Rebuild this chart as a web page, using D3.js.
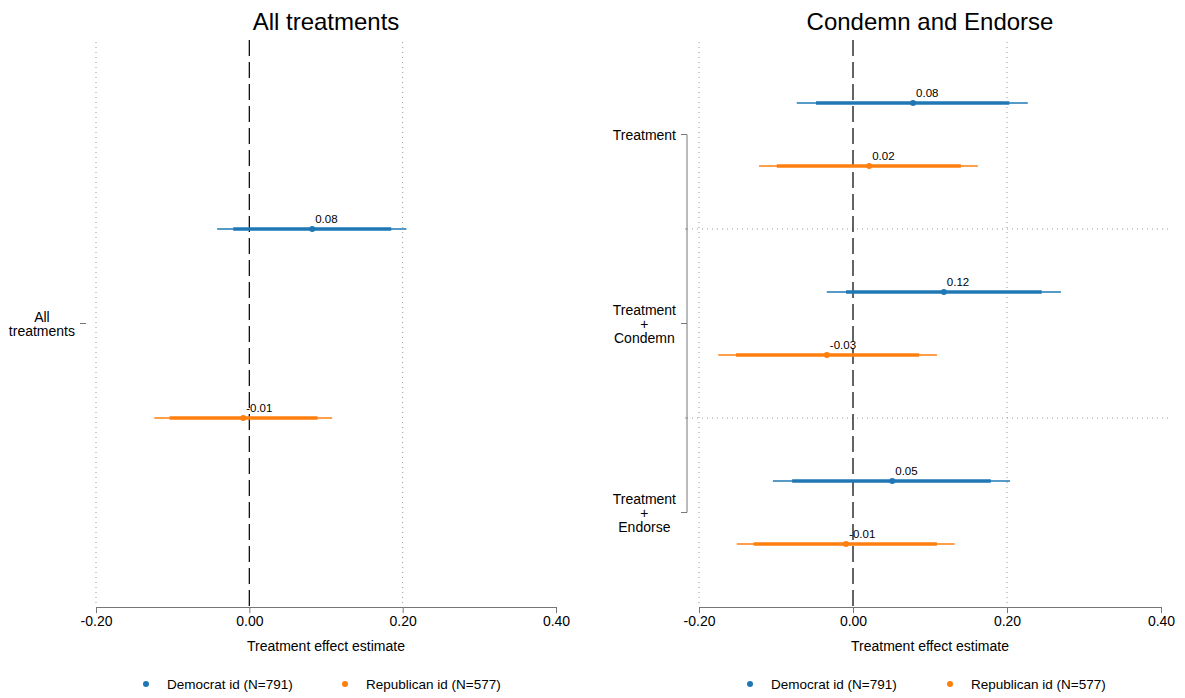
<!DOCTYPE html>
<html><head><meta charset="utf-8">
<script src="https://cdn.jsdelivr.net/npm/d3@7"></script>
<style>body{margin:0;background:#fff}svg{display:block}text{font-family:"Liberation Sans",Arial,Helvetica,sans-serif}</style>
</head><body><svg id="c" width="1185" height="698"></svg>
<script>
// ---- data ----
const xTicks = [-0.2, 0, 0.2, 0.4];
const groups = ["Democrat id (N=791)", "Republican id (N=577)"];
const colors = ["#1f77b4", "#ff7f0e"];

const leftTitle = "All treatments";
const leftCats = [["All", "treatments"]];
const leftDemEst = [0.082], leftDemLo95 = [-0.042], leftDemHi95 = [0.205], leftDemLo90 = [-0.021], leftDemHi90 = [0.185];
const leftRepEst = [-0.008], leftRepLo95 = [-0.124], leftRepHi95 = [0.108], leftRepLo90 = [-0.104], leftRepHi90 = [0.089];

const rightTitle = "Condemn and Endorse";
const rightCats = [["Treatment"], ["Treatment", "+", "Condemn"], ["Treatment", "+", "Endorse"]];
const rightDemEst = [0.078, 0.118, 0.051];
const rightDemLo95 = [-0.073, -0.034, -0.104];
const rightDemHi95 = [0.227, 0.270, 0.204];
const rightDemLo90 = [-0.048, -0.009, -0.079];
const rightDemHi90 = [0.203, 0.245, 0.179];
const rightRepEst = [0.021, -0.034, -0.009];
const rightRepLo95 = [-0.122, -0.175, -0.151];
const rightRepHi95 = [0.162, 0.109, 0.132];
const rightRepLo90 = [-0.099, -0.152, -0.129];
const rightRepHi90 = [0.140, 0.086, 0.109];

const svg = d3.select("#c");
const FONT = "Liberation Sans, Arial, sans-serif";
const fmt = d => d3.format(".2f")(d).replace("\u2212", "-");

function panel(cfg) {
  const g = svg.append("g");
  const x = d3.scaleLinear().domain([-0.2, 0.4]).range([cfg.x0, cfg.x1]);
  const y = d3.scaleBand().domain(d3.range(cfg.cats.length)).range([40, 607]).padding(0);
  const top = 40, bot = 607;

  g.selectAll(".vg").data([-0.2, 0.2]).join("line")
    .attr("x1", d => x(d)).attr("x2", d => x(d)).attr("y1", top + 2).attr("y2", bot)
    .attr("stroke", "#999").attr("stroke-width", 1).attr("stroke-dasharray", "1,4");

  const seps = d3.range(1, cfg.cats.length).map(i => y(i));
  g.selectAll(".hg").data(seps).join("line")
    .attr("x1", cfg.axisX).attr("x2", 1170).attr("y1", d => d).attr("y2", d => d)
    .attr("stroke", "#999").attr("stroke-width", 1).attr("stroke-dasharray", "1,4");

  g.append("line").attr("x1", x(0)).attr("x2", x(0)).attr("y1", top).attr("y2", bot)
    .attr("stroke", "#111").attr("stroke-width", 1.3).attr("stroke-dasharray", "16,6");

  const xa = g.append("g").attr("transform", `translate(0,${bot})`)
    .call(d3.axisBottom(x).tickValues(xTicks).tickFormat(fmt).tickSize(6).tickPadding(3));
  xa.select(".domain").attr("stroke", "#777");
  xa.selectAll(".tick line").attr("stroke", "#777");
  xa.selectAll(".tick text").attr("font-size", 14).attr("fill", "#000").attr("font-family", FONT);

  g.append("text").attr("x", (cfg.x0 + cfg.x1) / 2).attr("y", 651).attr("text-anchor", "middle")
    .attr("font-size", 14).text("Treatment effect estimate");
  g.append("text").attr("x", (cfg.x0 + cfg.x1) / 2).attr("y", 30).attr("text-anchor", "middle")
    .attr("font-size", 24).text(cfg.title);

  const centers = cfg.cats.map((c, i) => y(i) + y.bandwidth() / 2);
  if (cfg.cats.length > 1) {
    g.append("line").attr("x1", cfg.axisX).attr("x2", cfg.axisX)
      .attr("y1", centers[0]).attr("y2", centers[centers.length - 1]).attr("stroke", "#777");
  }
  g.selectAll(".yt").data(centers).join("line")
    .attr("x1", cfg.axisX - 6).attr("x2", cfg.axisX).attr("y1", d => d).attr("y2", d => d).attr("stroke", "#777");
  g.selectAll(".ymt").data(seps).join("line")
    .attr("x1", cfg.axisX - 2).attr("x2", cfg.axisX).attr("y1", d => d).attr("y2", d => d).attr("stroke", "#999");

  cfg.cats.forEach((lines, i) => {
    const t = g.append("text").attr("font-size", 14).attr("text-anchor", "middle");
    const n = lines.length, lh = 14;
    lines.forEach((l, k) => {
      t.append("tspan").attr("y", centers[i] + (k - (n - 1) / 2) * lh + 5).text(l);
    });
    let maxW = 0;
    t.selectAll("tspan").each(function () { maxW = Math.max(maxW, this.getComputedTextLength()); });
    t.selectAll("tspan").attr("x", cfg.axisX - 11 - maxW / 2);
  });

  cfg.series.forEach((s, si) => {
    const col = colors[si];
    const yy = i => y(i) + y.bandwidth() * (si + 1) / 3;
    const idx = d3.range(cfg.cats.length);
    g.selectAll(".ci95" + si).data(idx).join("line")
      .attr("x1", i => x(s.lo95[i])).attr("x2", i => x(s.hi95[i])).attr("y1", yy).attr("y2", yy)
      .attr("stroke", col).attr("stroke-width", 1.6);
    g.selectAll(".ci90" + si).data(idx).join("line")
      .attr("x1", i => x(s.lo90[i])).attr("x2", i => x(s.hi90[i])).attr("y1", yy).attr("y2", yy)
      .attr("stroke", col).attr("stroke-width", 3.6);
    g.selectAll(".pt" + si).data(idx).join("circle")
      .attr("cx", i => x(s.est[i])).attr("cy", yy).attr("r", 3).attr("fill", col);
    g.selectAll(".lb" + si).data(idx).join("text")
      .attr("x", i => x(s.est[i]) + 3).attr("y", i => yy(i) - 6).attr("font-size", 11.5)
      .text(i => fmt(s.est[i]));
  });

  const lg = g.append("g");
  cfg.legend.forEach((lx, k) => {
    lg.append("circle").attr("cx", lx).attr("cy", 684).attr("r", 3).attr("fill", colors[k]);
    lg.append("text").attr("x", lx + 21).attr("y", 689).attr("font-size", 13.5).text(groups[k]);
  });
}

panel({
  x0: 96, x1: 556, axisX: 86, title: leftTitle, cats: leftCats, legend: [146, 345],
  series: [
    {est: leftDemEst, lo95: leftDemLo95, hi95: leftDemHi95, lo90: leftDemLo90, hi90: leftDemHi90},
    {est: leftRepEst, lo95: leftRepLo95, hi95: leftRepHi95, lo90: leftRepLo90, hi90: leftRepHi90}
  ]
});
panel({
  x0: 699, x1: 1161, axisX: 687, title: rightTitle, cats: rightCats, legend: [750, 950],
  series: [
    {est: rightDemEst, lo95: rightDemLo95, hi95: rightDemHi95, lo90: rightDemLo90, hi90: rightDemHi90},
    {est: rightRepEst, lo95: rightRepLo95, hi95: rightRepHi95, lo90: rightRepLo90, hi90: rightRepHi90}
  ]
});
</script></body></html>
